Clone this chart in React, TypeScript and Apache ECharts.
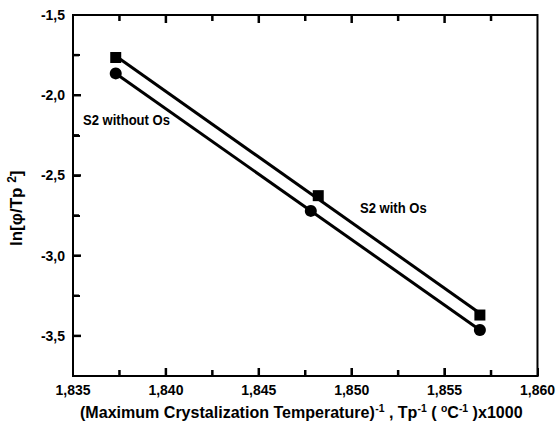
import React, { useEffect, useRef } from "react";
import * as echarts from "echarts";

const withOsX = [1.8373, 1.8482, 1.8569];
const withOsY = [-1.765, -2.626, -3.37];
const withoutOsX = [1.8373, 1.8478, 1.8569];
const withoutOsY = [-1.864, -2.721, -3.463];
const xMajorTicks = [1.835, 1.84, 1.845, 1.85, 1.855, 1.86];
const xMinorTicks = [1.8375, 1.8425, 1.8475, 1.8525, 1.8575];
const yMajorTicks = [-3.5, -3.0, -2.5, -2.0, -1.5];
const yMinorTicks = [-3.25, -2.75, -2.25, -1.75];

const X_MIN = 1.835, X_MAX = 1.86, Y_MIN = -3.75, Y_MAX = -1.5;

function fit(xs: number[], ys: number[]) {
  const n = xs.length;
  const mx = xs.reduce((a, b) => a + b, 0) / n;
  const my = ys.reduce((a, b) => a + b, 0) / n;
  let sxy = 0, sxx = 0;
  for (let i = 0; i < n; i++) { sxy += (xs[i] - mx) * (ys[i] - my); sxx += (xs[i] - mx) ** 2; }
  const b = sxy / sxx; const a = my - b * mx;
  const x0 = xs[0], x1 = xs[n - 1];
  return [[x0, a + b * x0], [x1, a + b * x1]];
}

const FONT = "'Liberation Sans', Arial, sans-serif";

export default function App() {
  const ref = useRef<HTMLDivElement>(null);
  useEffect(() => {
    const chart = echarts.init(ref.current!, null, { renderer: "svg" });
    const isMajor = (v: number, arr: number[]) => arr.some((t) => Math.abs(t - v) < 1e-6);
    const tickStroke = { stroke: "#000", lineWidth: 2.5 };
    const xTickData = [
      ...xMajorTicks.filter((v) => v > X_MIN && v < X_MAX).map((v) => [v, Y_MIN, 1]),
      ...xMinorTicks.map((v) => [v, Y_MIN, 0]),
    ];
    const yTickData = [
      ...yMajorTicks.filter((v) => v > Y_MIN && v < Y_MAX).map((v) => [X_MIN, v, 1]),
      ...yMinorTicks.map((v) => [X_MIN, v, 0]),
    ];
    chart.setOption({
      animation: false,
      grid: { left: 73, right: 17, top: 15, bottom: 54, show: true, borderColor: "#000", borderWidth: 2, backgroundColor: "transparent" },
      xAxis: {
        type: "value", min: X_MIN, max: X_MAX, interval: 0.005,
        axisLine: { show: true, onZero: false, lineStyle: { color: "#000", width: 2 } },
        axisTick: { show: true, inside: true, length: 8, lineStyle: { color: "#000", width: 2 } },
        splitLine: { show: false },
        axisLabel: {
          color: "#000", fontFamily: FONT, fontWeight: "bold", fontSize: 14, margin: 7,
          formatter: (v: number) => (isMajor(v, xMajorTicks) ? v.toFixed(3).replace(".", ",") : ""),
        },
      },
      yAxis: {
        type: "value", min: Y_MIN, max: Y_MAX, interval: 0.25,
        axisLine: { show: true, onZero: false, lineStyle: { color: "#000", width: 2 } },
        axisTick: { show: true, inside: true, length: 7, lineStyle: { color: "#000", width: 2 } },
        splitLine: { show: false },
        axisLabel: {
          color: "#000", fontFamily: FONT, fontWeight: "bold", fontSize: 14, margin: 8,
          formatter: (v: number) => (isMajor(v, yMajorTicks) ? v.toFixed(1).replace(".", ",") : ""),
        },
      },
      series: [
        {
          type: "custom", data: xTickData, silent: true, z: 5, clip: false,
          renderItem: (_p: any, api: any) => {
            const x = api.value(0); const len = api.value(2) ? 8 : 6;
            const pb = api.coord([x, Y_MIN]); const pt = api.coord([x, Y_MAX]);
            return {
              type: "group", children: [
                { type: "line", shape: { x1: pb[0], y1: pb[1], x2: pb[0], y2: pb[1] - len }, style: tickStroke },
                { type: "line", shape: { x1: pt[0], y1: pt[1], x2: pt[0], y2: pt[1] + len }, style: tickStroke },
              ],
            };
          },
        },
        {
          type: "custom", data: yTickData, silent: true, z: 5, clip: false,
          renderItem: (_p: any, api: any) => {
            const y = api.value(1); const len = api.value(2) ? 8 : 6;
            const pl = api.coord([X_MIN, y]);
            return { type: "line", shape: { x1: pl[0], y1: pl[1], x2: pl[0] + len, y2: pl[1] }, style: tickStroke };
          },
        },
        { type: "line", data: fit(withOsX, withOsY), symbol: "none", lineStyle: { color: "#000", width: 3 }, z: 2 },
        { type: "line", data: fit(withoutOsX, withoutOsY), symbol: "none", lineStyle: { color: "#000", width: 3 }, z: 2 },
        { type: "scatter", data: withOsX.map((x, i) => [x, withOsY[i]]), symbol: "rect", symbolSize: 11, itemStyle: { color: "#000", opacity: 1 }, z: 3 },
        { type: "scatter", data: withoutOsX.map((x, i) => [x, withoutOsY[i]]), symbol: "circle", symbolSize: 12, itemStyle: { color: "#000", opacity: 1 }, z: 3 },
      ],
      graphic: [
        { type: "text", x: 83, y: 112, scaleX: 0.87, style: { text: "S2 without Os", font: `bold 15px ${FONT}`, fill: "#000" } },
        { type: "text", x: 360, y: 200, scaleX: 0.87, style: { text: "S2 with Os", font: `bold 15px ${FONT}`, fill: "#000" } },
        {
          type: "text", x: 6, y: 246, rotation: Math.PI / 2,
          style: {
            text: "{a|ln[φ/Tp }{s|2}{a|]}",
            fill: "#000",
            rich: {
              a: { fontFamily: FONT, fontWeight: "bold", fontSize: 17, fill: "#000" },
              s: { fontFamily: FONT, fontWeight: "bold", fontSize: 12, fill: "#000", padding: [0, 0, 9, 0] },
            },
          },
        },
        {
          type: "text", x: 80, y: 402, scaleX: 0.945,
          style: {
            text: "{a|(Maximum Crystalization Temperature)}{s|-1}{a| , Tp}{s|-1}{a| ( }{s|o}{a|C}{s|-1}{a| )x1000}",
            fill: "#000",
            rich: {
              a: { fontFamily: FONT, fontWeight: "bold", fontSize: 17, fill: "#000" },
              s: { fontFamily: FONT, fontWeight: "bold", fontSize: 11, fill: "#000", padding: [0, 0, 9, 0] },
            },
          },
        },
      ],
    });
    return () => chart.dispose();
  }, []);
  return <div ref={ref} style={{ width: 558, height: 430, position: "absolute", left: 0, top: 0, background: "#fff" }} />;
}
